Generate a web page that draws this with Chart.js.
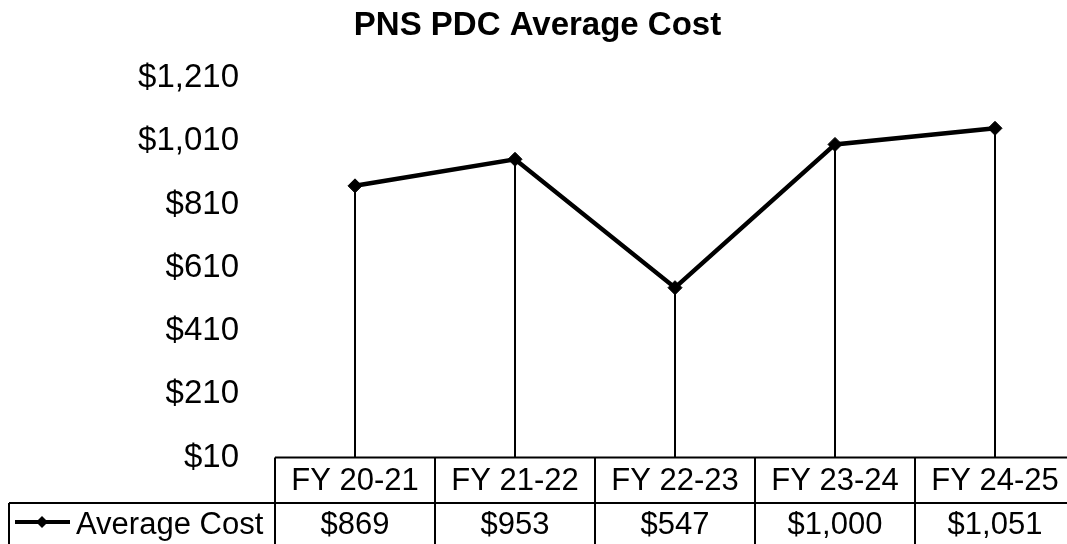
<!DOCTYPE html>
<html>
<head>
<meta charset="utf-8">
<script src="https://cdn.jsdelivr.net/npm/chart.js@4/dist/chart.umd.min.js"></script>
<style>
  html, body { margin: 0; padding: 0; background: #fff; overflow: hidden; }
  #wrap { width: 1083px; height: 544px; }
</style>
</head>
<body>
<div id="wrap"><canvas id="c" width="1083" height="544"></canvas></div>
<script>
const categories = ['FY 20-21', 'FY 21-22', 'FY 22-23', 'FY 23-24', 'FY 24-25'];
const averageCost = [869, 953, 547, 1000, 1051];
const seriesName = 'Average Cost';
const chartTitle = 'PNS PDC Average Cost';
const yMin = 10, yMax = 1210, yStep = 200;

const fmt = v => '$' + Number(v).toLocaleString('en-US');
const FONT = 'Liberation Sans, Arial, Helvetica, sans-serif';

const dropLines = {
  id: 'dropLines',
  beforeDatasetsDraw(chart) {
    const ctx = chart.ctx, x = chart.scales.x, y = chart.scales.y;
    ctx.save();
    ctx.strokeStyle = '#000';
    ctx.lineWidth = 2;
    averageCost.forEach((v, i) => {
      const px = Math.round(x.getPixelForValue(i));
      ctx.beginPath();
      ctx.moveTo(px, y.getPixelForValue(v));
      ctx.lineTo(px, chart.chartArea.bottom);
      ctx.stroke();
    });
    ctx.restore();
  }
};

const dataTable = {
  id: 'dataTable',
  afterDraw(chart) {
    const ctx = chart.ctx, x = chart.scales.x;
    const area = chart.chartArea;
    const top = area.bottom, mid = top + 45.5, bot = 560;
    const half = (x.getPixelForValue(1) - x.getPixelForValue(0)) / 2;
    const legendLeft = 9;
    ctx.save();
    ctx.strokeStyle = '#000';
    ctx.lineWidth = 2;
    ctx.beginPath();
    ctx.moveTo(area.left, top); ctx.lineTo(area.right, top);
    ctx.moveTo(legendLeft, mid); ctx.lineTo(area.right, mid);
    ctx.moveTo(legendLeft, mid); ctx.lineTo(legendLeft, bot);
    const edges = categories.map((c, i) => x.getPixelForValue(i) - half);
    edges.push(x.getPixelForValue(categories.length - 1) + half);
    edges.forEach(ex => { ctx.moveTo(ex, top); ctx.lineTo(ex, bot); });
    ctx.stroke();

    ctx.fillStyle = '#000';
    ctx.textAlign = 'center';
    ctx.textBaseline = 'middle';
    ctx.font = '31px ' + FONT;
    categories.forEach((c, i) => {
      const cx = x.getPixelForValue(i);
      ctx.fillText(c, cx, (top + mid) / 2 + 1);
      ctx.fillText(fmt(averageCost[i]), cx, mid + 22);
    });

    // legend key inside the table
    const ky = mid + 19;
    ctx.lineWidth = 4;
    ctx.beginPath(); ctx.moveTo(15, ky); ctx.lineTo(70, ky); ctx.stroke();
    ctx.beginPath();
    const r = 6;
    ctx.moveTo(42, ky - r); ctx.lineTo(42 + r, ky); ctx.lineTo(42, ky + r); ctx.lineTo(42 - r, ky);
    ctx.closePath(); ctx.fill();
    ctx.textAlign = 'left';
    ctx.font = '31px ' + FONT;
    ctx.fillText(seriesName, 76, mid + 22);
    ctx.restore();
  }
};

new Chart(document.getElementById('c'), {
  type: 'line',
  data: {
    labels: categories,
    datasets: [{
      label: seriesName,
      data: averageCost,
      borderColor: '#000',
      backgroundColor: '#000',
      borderWidth: 4.5,
      pointStyle: 'rectRot',
      pointRadius: 7,
      pointHoverRadius: 7,
      pointBackgroundColor: '#000',
      pointBorderColor: '#000',
      pointBorderWidth: 1,
      tension: 0,
      fill: false
    }]
  },
  options: {
    responsive: false,
    devicePixelRatio: 1,
    animation: false,
    events: [],
    layout: { padding: { left: 0, right: 8, top: 0, bottom: 86.5 } },
    plugins: {
      legend: { display: false },
      tooltip: { enabled: false },
      title: {
        display: true,
        text: chartTitle,
        color: '#000',
        font: { family: FONT, size: 33, weight: 'bold', lineHeight: 1.2 },
        padding: { top: 6, bottom: 32.4 }
      }
    },
    scales: {
      x: {
        type: 'category',
        offset: true,
        display: false,
        grid: { display: false }
      },
      y: {
        min: yMin,
        max: yMax,
        afterBuildTicks(scale) {
          const t = [];
          for (let v = yMin; v <= yMax; v += yStep) t.push({ value: v });
          scale.ticks = t;
        },
        afterFit(scale) { scale.width = 275; },
        grid: { display: false, drawTicks: false },
        border: { display: false },
        ticks: {
          padding: 36,
          color: '#000',
          font: { family: FONT, size: 33 },
          callback: v => fmt(v)
        }
      }
    }
  },
  plugins: [dropLines, dataTable]
});
</script>
</body>
</html>
